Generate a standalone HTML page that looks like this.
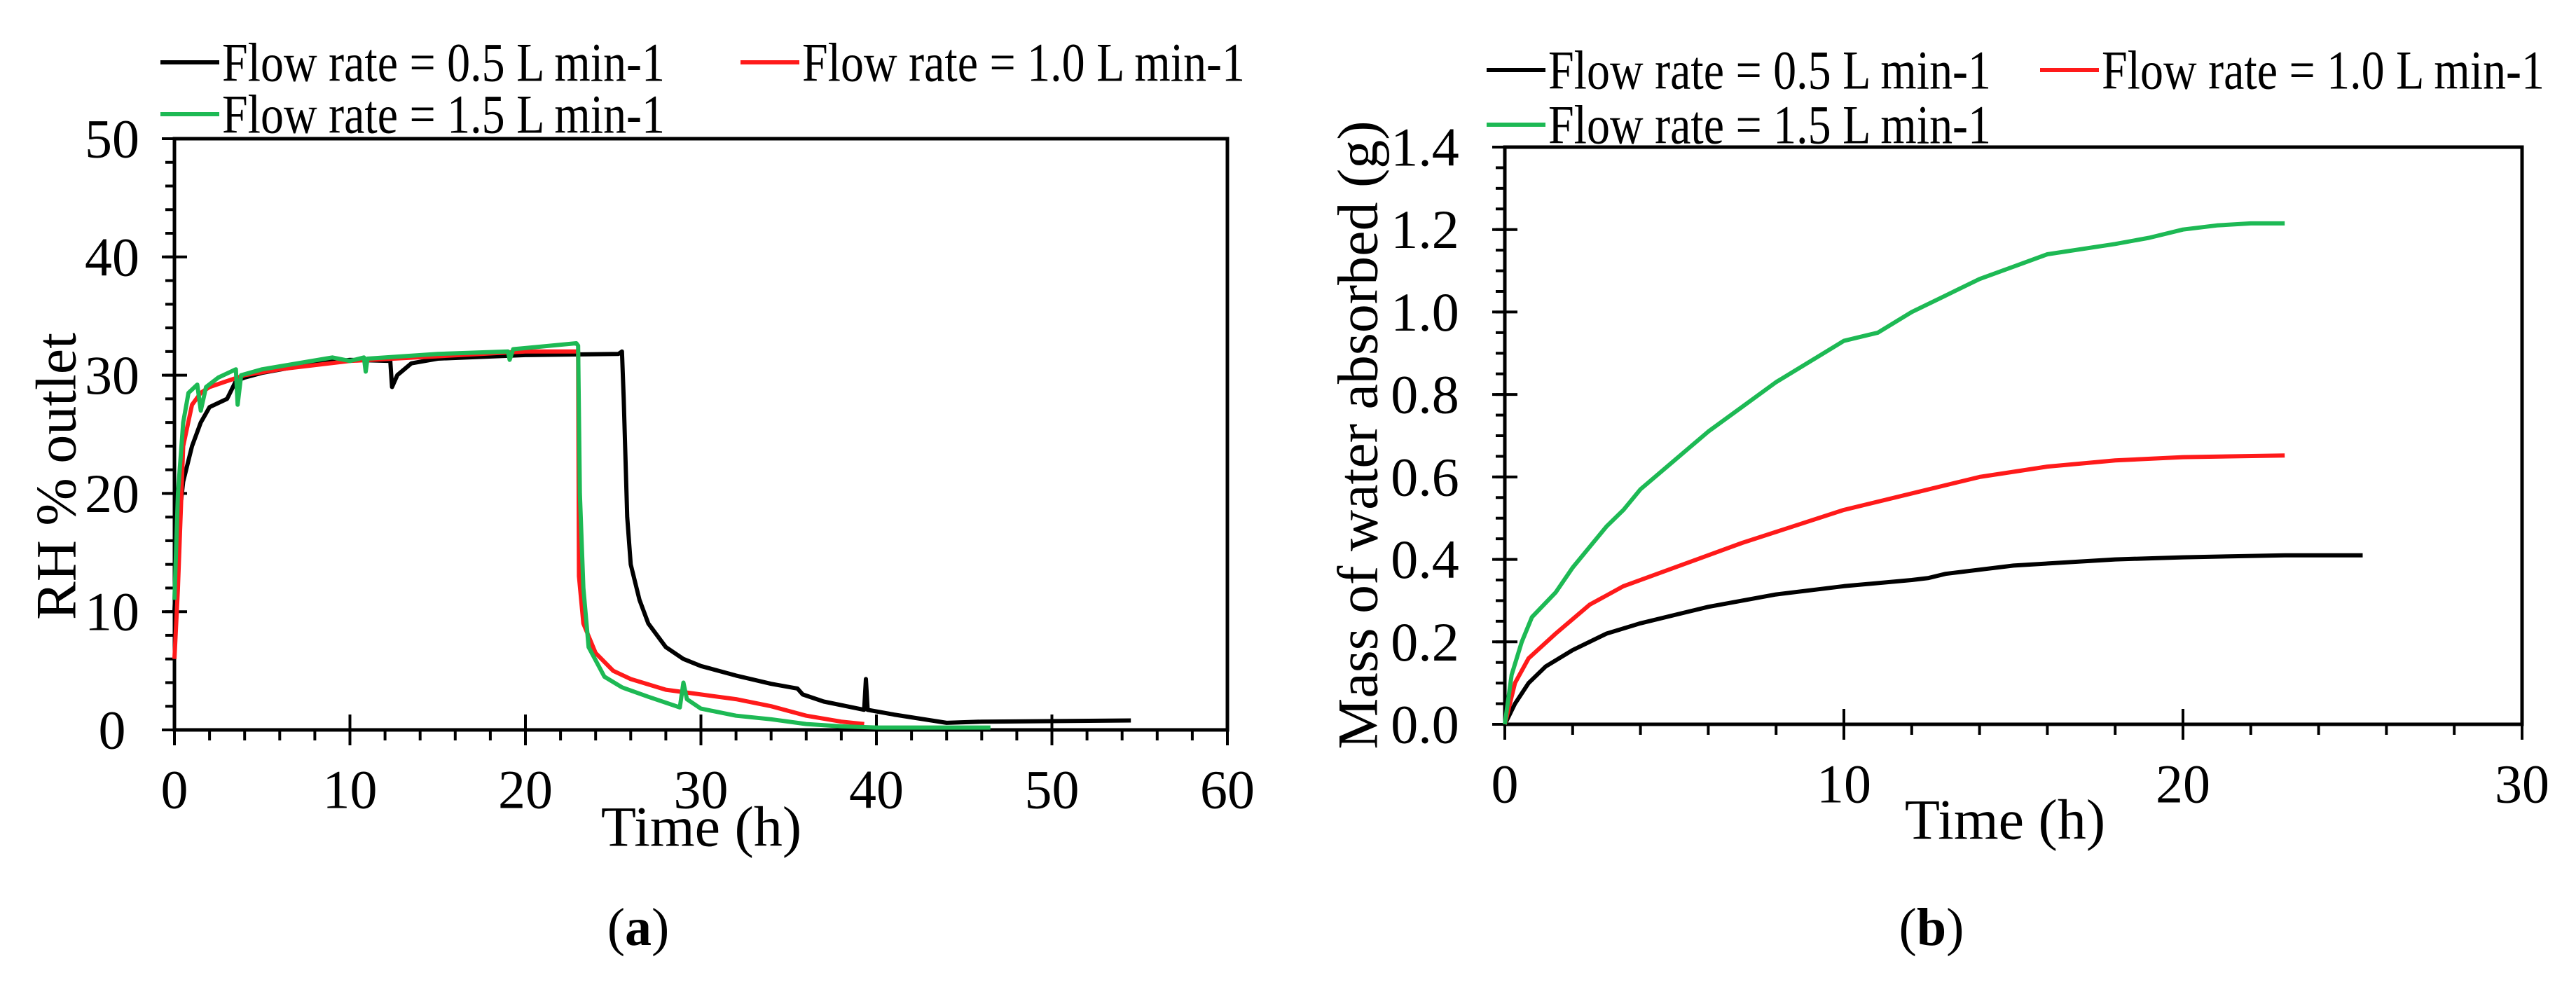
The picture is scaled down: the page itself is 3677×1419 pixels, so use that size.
<!DOCTYPE html>
<html><head><meta charset="utf-8"><style>
html,body{margin:0;padding:0;background:#fff}
svg{display:block}
svg text{font-family:"Liberation Serif","DejaVu Serif",serif !important;fill:#000}
</style></head><body>
<svg id="s" width="3677" height="1419" viewBox="0 0 3677 1419" xmlns="http://www.w3.org/2000/svg" font-family="Liberation Serif, serif"></svg>
<script>
const aBlackX=[0,0.2,0.5,1,1.5,2,3,3.5,4,5,8,10,12.3,12.4,12.7,13.5,15,20,25.3,25.5,25.6,25.8,26,26.5,27,28,29,30,32,34,35.5,35.8,37,39.3,39.4,39.5,41,44,46,54.5];
const aBlackY=[10,17,21,24,26,27.3,28,29.5,29.8,30.2,31,31.3,31.2,29,30,31,31.4,31.7,31.8,32,28,18,14,11,9,7,6,5.4,4.6,3.9,3.5,3,2.4,1.7,4.3,1.7,1.3,0.6,0.7,0.8];
const aRedX=[0,0.2,0.5,1,1.5,2,3,4,6,10,15,20,23,23.05,23.3,24,25,26,28,30,32,34,36,38,39.3];
const aRedY=[6,12,24,27.5,28.5,29,29.5,30,30.5,31.2,31.6,32,32,13,9,6.5,5,4.3,3.4,3,2.6,2,1.2,0.7,0.5];
const aGreenX=[0,0.2,0.5,0.8,1.3,1.5,1.8,2.5,3.5,3.6,3.8,5,9,10,10.8,10.9,11,15,19,19.1,19.3,22.9,23,23.1,23.3,23.6,24.5,25.5,27,28.8,29,29.2,30,32,34,36,38,40,46.5];
const aGreenY=[11,20,26,28.5,29.2,27,29,29.8,30.5,27.5,30,30.5,31.5,31.2,31.5,30.3,31.4,31.8,32,31.3,32.2,32.7,32.5,20,12,7,4.5,3.6,2.8,1.9,4.0,2.6,1.8,1.2,0.9,0.5,0.3,0.2,0.2];
const bBlackX=[0,0.3,0.7,1.2,2,3,4,6,8,10,12,12.5,13,15,18,20,23,25.3];
const bBlackY=[0,0.05,0.1,0.14,0.18,0.22,0.245,0.285,0.315,0.335,0.35,0.355,0.365,0.385,0.4,0.405,0.41,0.41];
const bRedX=[0,0.3,0.7,1.5,2.5,3.5,5,7,10,12,14,16,18,20,23];
const bRedY=[0,0.1,0.16,0.22,0.29,0.335,0.38,0.44,0.52,0.56,0.6,0.625,0.64,0.648,0.652];
const bGreenX=[0,0.2,0.5,0.8,1.5,2,2.5,3,3.5,4,5,6,7,8,9,10,11,12,13,14,15,16,18,19,20,21,22,23];
const bGreenY=[0,0.12,0.2,0.26,0.32,0.38,0.43,0.48,0.52,0.57,0.64,0.71,0.77,0.83,0.88,0.93,0.95,1.0,1.04,1.08,1.11,1.14,1.165,1.18,1.2,1.21,1.215,1.215];
const aXTicks=[0,10,20,30,40,50,60];
const aYTicks=[0,10,20,30,40,50];
const bXTicks=[0,10,20,30];
const bYTicks=[0,0.2,0.4,0.6,0.8,1.0,1.2,1.4];

const NS="http://www.w3.org/2000/svg";
const svg=document.getElementById('s');
function mk(tag,attrs,parent){const e=document.createElementNS(NS,tag);for(const k in attrs)e.setAttribute(k,attrs[k]);(parent||svg).appendChild(e);return e;}
function txt(str,x,y,size,anchor,parent){const t=mk('text',{x:x,y:y,'font-size':size,'font-family':'Liberation Serif, serif','text-anchor':anchor||'middle','dominant-baseline':'central'},parent);t.textContent=str;return t;}

function chart(cfg){
  const g=mk('g',{});
  
  
  const sx=v=>cfg.L+(v-cfg.x0)/(cfg.x1-cfg.x0)*(cfg.R-cfg.L);
  const sy=v=>cfg.B-(v-cfg.y0)/(cfg.y1-cfg.y0)*(cfg.B-cfg.T);
  const frame=mk('rect',{x:cfg.L,y:cfg.T,width:cfg.R-cfg.L,height:cfg.B-cfg.T,fill:'none',stroke:'#000','stroke-width':5},g);
  
  
  for(let v=cfg.x0;v<=cfg.x1+1e-9;v+=cfg.xMinor){mk('line',{x1:sx(v),x2:sx(v),y1:cfg.B,y2:cfg.B+15,stroke:'#000','stroke-width':4},g);}
  for(let v=cfg.y0;v<=cfg.y1+1e-9;v+=cfg.yMinor){mk('line',{x1:cfg.L-13,x2:cfg.L,y1:sy(v),y2:sy(v),stroke:'#000','stroke-width':4},g);}
  cfg.xTicks.forEach(v=>{
    mk('line',{x1:sx(v),x2:sx(v),y1:cfg.B-22,y2:cfg.B+22,stroke:'#000','stroke-width':4},g);
    const t=txt(String(v),sx(v),cfg.B+85,78,'middle',g);
    
    
  });
  cfg.yTicks.forEach(v=>{
    mk('line',{x1:cfg.L-18,x2:cfg.L+18,y1:sy(v),y2:sy(v),stroke:'#000','stroke-width':4},g);
    const t=txt(cfg.fmt(v),cfg.yLabX,sy(v),78,'middle',g);
    
    
  });
  const cols=['#000000','#ff1a1a','#1db954'];
  cfg.series.forEach((s,i)=>{
    const d=s[0].map((x,j)=>(j?'L':'M')+sx(x).toFixed(1)+' '+sy(s[1][j]).toFixed(1)).join(' ');
    const p=mk('path',{d:d,fill:'none',stroke:cols[i],'stroke-width':6,'stroke-linejoin':'round'},g);
    
    
  });
  const labels=['Flow rate = 0.5 L min-1','Flow rate = 1.0 L min-1','Flow rate = 1.5 L min-1'];
  cfg.leg.forEach((l,i)=>{
    const lg=mk('g',{},g);
    
    
    mk('line',{x1:l[0],x2:l[0]+84,y1:l[1],y2:l[1],stroke:cols[i],'stroke-width':6},lg);
    const t=txt(labels[i],l[0]+88,l[1],78,'start',lg);
    t.setAttribute('textLength',cfg.legLen);
    t.setAttribute('lengthAdjust','spacingAndGlyphs');
  });
  const xt=txt('Time (h)',cfg.xTitle[0],cfg.xTitle[1],82,'middle',g);
  
  
  const yt=txt(cfg.yTitle,0,0,82,'middle',g);
  yt.setAttribute('transform','translate('+cfg.yTitlePos[0]+','+cfg.yTitlePos[1]+') rotate(-90)');
  
  
  const cap=txt(cfg.cap[0],cfg.cap[1],cfg.cap[2],76,'middle',g);
  
  
  cap.innerHTML='(<tspan font-weight="bold">'+cfg.cap[0]+'</tspan>)';
}

chart({name:'chart-a',L:249,R:1752,T:198,B:1042,x0:0,x1:60,y0:0,y1:50,xMinor:2,yMinor:2,
  xTicks:aXTicks,yTicks:aYTicks,fmt:v=>String(v),yLabX:160,legLen:632,
  series:[[aBlackX,aBlackY],[aRedX,aRedY],[aGreenX,aGreenY]],
  leg:[[229,89],[1057,89],[229,163]],xTitle:[1001,1180],yTitle:'RH % outlet',yTitlePos:[80,680],cap:['a',911,1324]});
chart({name:'chart-b',L:2148,R:3600,T:210,B:1034,x0:0,x1:30,y0:0,y1:1.4,xMinor:2,yMinor:0.05,
  xTicks:bXTicks,yTicks:bYTicks,fmt:v=>v.toFixed(1),yLabX:2034,legLen:632,
  series:[[bBlackX,bBlackY],[bRedX,bRedY],[bGreenX,bGreenY]],
  leg:[[2122,100],[2912,100],[2122,178]],xTitle:[2862,1170],yTitle:'Mass of water absorbed (g)',yTitlePos:[1938,621],cap:['b',2757,1324]});
</script>
</body></html>
